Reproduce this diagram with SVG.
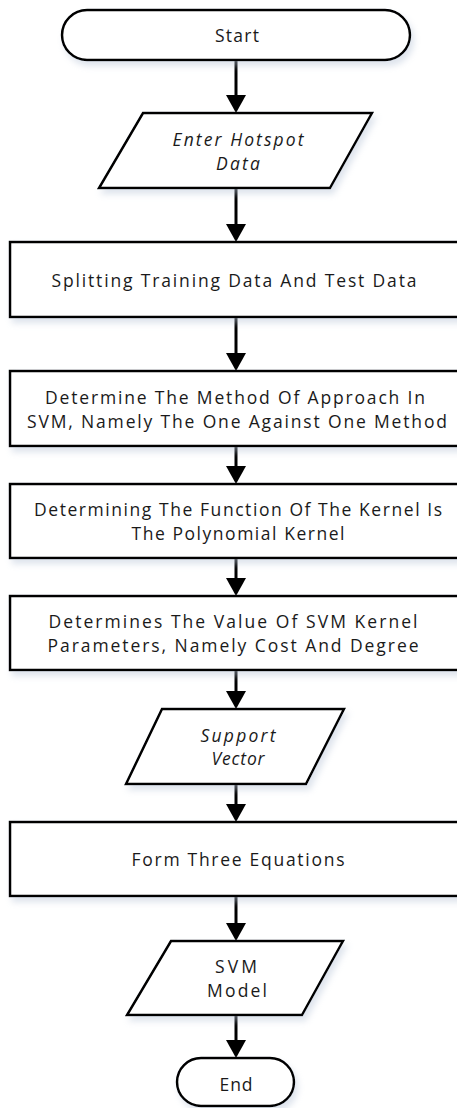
<svg xmlns="http://www.w3.org/2000/svg" width="457" height="1108" viewBox="0 0 457 1108">
<style>
.shape{fill:#ffffff;stroke:#000000;stroke-width:2.5;stroke-linejoin:miter}
.t{font-family:"Open Sans","Noto Sans","Liberation Sans",sans-serif;font-size:17.5px;fill:#1a1a1a;text-anchor:middle}
.i{font-style:italic}
.conn{stroke:#000000;stroke-width:3;fill:none}
</style>
<defs>
<filter id="sh" x="-10%" y="-20%" width="125%" height="150%">
<feDropShadow dx="3" dy="5" stdDeviation="3" flood-color="#b8c4d8" flood-opacity="0.45"/>
</filter>
<marker id="ah" viewBox="0 0 18 20" refX="0" refY="10" markerWidth="18" markerHeight="20" markerUnits="userSpaceOnUse" orient="auto">
<path d="M0,0 L18,10 L0,20 Z" fill="#000000"/>
</marker>
</defs>
<rect width="457" height="1108" fill="#ffffff"/>
<g id="connectors">
<line class="conn" x1="236" y1="60" x2="236" y2="95" marker-end="url(#ah)"/>
<line class="conn" x1="236" y1="188" x2="236" y2="224" marker-end="url(#ah)"/>
<line class="conn" x1="236" y1="317" x2="236" y2="353" marker-end="url(#ah)"/>
<line class="conn" x1="236" y1="446" x2="236" y2="466" marker-end="url(#ah)"/>
<line class="conn" x1="236" y1="558" x2="236" y2="578" marker-end="url(#ah)"/>
<line class="conn" x1="236" y1="670" x2="236" y2="691" marker-end="url(#ah)"/>
<line class="conn" x1="236" y1="784" x2="236" y2="804" marker-end="url(#ah)"/>
<line class="conn" x1="236" y1="896" x2="236" y2="923" marker-end="url(#ah)"/>
<line class="conn" x1="236" y1="1015" x2="236" y2="1040" marker-end="url(#ah)"/>
</g>
<g id="start">
<rect class="shape" filter="url(#sh)" x="62" y="10" width="348" height="50" rx="25" ry="25"/>
<text class="t" x="237" y="42" textLength="44">Start</text>
</g>
<g id="enter-hotspot-data">
<polygon class="shape" filter="url(#sh)" points="143,113 372,113 330,188 99,188"/>
<text class="t i" x="238" y="146" textLength="131">Enter Hotspot</text>
<text class="t i" x="238" y="170" textLength="44">Data</text>
</g>
<g id="splitting">
<rect class="shape" filter="url(#sh)" x="10" y="242" width="452" height="75"/>
<text class="t" x="234" y="287" textLength="365">Splitting Training Data And Test Data</text>
</g>
<g id="approach">
<rect class="shape" filter="url(#sh)" x="10" y="371" width="452" height="75"/>
<text class="t" x="235" y="404" textLength="380">Determine The Method Of Approach In</text>
<text class="t" x="237" y="428" textLength="420">SVM, Namely The One Against One Method</text>
</g>
<g id="kernel-function">
<rect class="shape" filter="url(#sh)" x="10" y="484" width="452" height="74"/>
<text class="t" x="238" y="516" textLength="408">Determining The Function Of The Kernel Is</text>
<text class="t" x="238" y="540" textLength="213">The Polynomial Kernel</text>
</g>
<g id="kernel-parameters">
<rect class="shape" filter="url(#sh)" x="10" y="596" width="452" height="74"/>
<text class="t" x="233" y="628" textLength="369">Determines The Value Of SVM Kernel</text>
<text class="t" x="233" y="652" textLength="371">Parameters, Namely Cost And Degree</text>
</g>
<g id="support-vector">
<polygon class="shape" filter="url(#sh)" points="162,709 344,709 306,784 126,784"/>
<text class="t i" x="238" y="742" textLength="75">Support</text>
<text class="t i" x="238" y="765" textLength="53">Vector</text>
</g>
<g id="three-equations">
<rect class="shape" filter="url(#sh)" x="10" y="822" width="452" height="74"/>
<text class="t" x="238" y="866" textLength="213">Form Three Equations</text>
</g>
<g id="svm-model">
<polygon class="shape" filter="url(#sh)" points="171,941 343,941 302,1015 127,1015"/>
<text class="t" x="236" y="973" textLength="42">SVM</text>
<text class="t" x="237" y="997" textLength="60">Model</text>
</g>
<g id="end">
<rect class="shape" filter="url(#sh)" x="177" y="1058" width="117" height="48" rx="24" ry="24"/>
<text class="t" x="236" y="1091" textLength="33">End</text>
</g>
</svg>
